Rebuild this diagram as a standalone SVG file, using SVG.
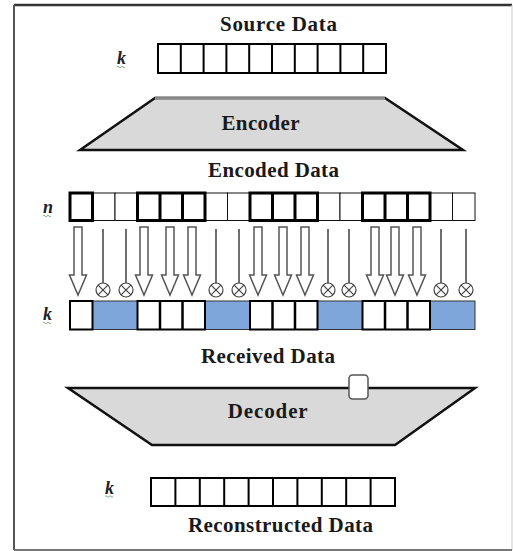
<svg xmlns="http://www.w3.org/2000/svg" width="513" height="551" viewBox="0 0 513 551">
<style>
.t{font-family:"Liberation Serif","Times New Roman",serif;font-weight:bold;font-size:21px;fill:#1a1a1a;text-anchor:middle}
.v{font-family:"Liberation Serif","Times New Roman",serif;font-weight:bold;font-style:italic;font-size:18px;fill:#222}
.sq{fill:none;stroke:#5a9a5a;stroke-width:0.8}
.cell{fill:#fff;stroke:#000;stroke-width:2}
.thin{fill:#fff;stroke:#111;stroke-width:1}
.bold{fill:none;stroke:#000;stroke-width:3}
.blue{fill:#7fa6da;stroke:#333;stroke-width:1}
.trap{fill:#d9d9d9;stroke:#111;stroke-width:2.5;stroke-linejoin:miter}
.arr{fill:#fff;stroke:#555;stroke-width:1.5;stroke-linejoin:miter}
</style>
<defs>
<path id="arrow" class="arr" d="M-4,227 h8 v48 h4.5 l-8.5,20 l-8.5,-20 h4.5 z"/>
<g id="lost">
<line x1="0" y1="229" x2="0" y2="283" stroke="#222" stroke-width="1.3"/>
<circle cx="0" cy="290" r="7" fill="#fff" stroke="#444" stroke-width="1.2"/>
<path d="M-4.9,285.1 L4.9,294.9 M4.9,285.1 L-4.9,294.9" stroke="#444" stroke-width="1.2"/>
</g>
</defs>
<rect width="513" height="551" fill="#fff"/>
<g id="frame">
<line x1="14" y1="5" x2="512" y2="5" stroke="#333" stroke-width="2.5"/>
<line x1="14" y1="5" x2="14" y2="550" stroke="#555" stroke-width="2"/>
<line x1="512" y1="5" x2="512" y2="550" stroke="#ccc" stroke-width="1"/>
<line x1="14" y1="550" x2="512" y2="550" stroke="#777" stroke-width="2"/>
</g>
<g id="source">
<text class="t" x="278.5" y="31" textLength="117" lengthAdjust="spacing">Source Data</text>
<text class="v" x="117" y="64">k</text>
<path class="sq" d="M117,67 q1,-1.5 2,0 t2,0 t2,0 t2,0"/>
<rect class="cell" x="158" y="44" width="228" height="29"/>
<path d="M180.8,44v29M203.6,44v29M226.4,44v29M249.2,44v29M272,44v29M294.8,44v29M317.6,44v29M340.4,44v29M363.2,44v29" stroke="#000" stroke-width="2"/>
</g>
<g id="encoder">
<polygon class="trap" points="155,98 385,98 463,150 80,150"/>
<line x1="155" y1="98" x2="385" y2="98" stroke="#888" stroke-width="3"/>
<text class="t" x="260.5" y="130" textLength="78" lengthAdjust="spacing">Encoder</text>
</g>
<g id="encoded">
<text class="t" x="273.5" y="176.7" textLength="131" lengthAdjust="spacing">Encoded Data</text>
<text class="v" x="43" y="213">n</text>
<path class="sq" d="M43,216 q1,-1.5 2,0 t2,0 t2,0 t2,0"/>
<rect class="thin" x="92.5" y="193" width="22.5" height="27.5"/>
<rect class="thin" x="115" y="193" width="22.5" height="27.5"/>
<rect class="thin" x="205" y="193" width="22.5" height="27.5"/>
<rect class="thin" x="227.5" y="193" width="22.5" height="27.5"/>
<rect class="thin" x="317.5" y="193" width="22.5" height="27.5"/>
<rect class="thin" x="340" y="193" width="22.5" height="27.5"/>
<rect class="thin" x="430" y="193" width="22.5" height="27.5"/>
<rect class="thin" x="452.5" y="193" width="22.5" height="27.5"/>
<rect class="bold" x="70" y="193" width="22.5" height="27.5"/>
<rect class="bold" x="137.5" y="193" width="67.5" height="27.5"/>
<rect class="bold" x="250" y="193" width="67.5" height="27.5"/>
<rect class="bold" x="362.5" y="193" width="67.5" height="27.5"/>
<path d="M160,193v27.5M182.5,193v27.5M272.5,193v27.5M295,193v27.5M385,193v27.5M407.5,193v27.5" stroke="#000" stroke-width="3"/>
</g>
<g id="connectors">
<use href="#arrow" x="78"/>
<use href="#lost" x="103"/>
<use href="#lost" x="126"/>
<use href="#arrow" x="144"/>
<use href="#arrow" x="170"/>
<use href="#arrow" x="192"/>
<use href="#lost" x="216"/>
<use href="#lost" x="239"/>
<use href="#arrow" x="258"/>
<use href="#arrow" x="283"/>
<use href="#arrow" x="305"/>
<use href="#lost" x="328"/>
<use href="#lost" x="349"/>
<use href="#arrow" x="375"/>
<use href="#arrow" x="395"/>
<use href="#arrow" x="417"/>
<use href="#lost" x="441"/>
<use href="#lost" x="466"/>
</g>
<g id="received">
<text class="v" x="43" y="320">k</text>
<path class="sq" d="M43,323 q1,-1.5 2,0 t2,0 t2,0 t2,0"/>
<rect class="blue" x="92.5" y="301" width="45" height="28.5"/>
<rect class="blue" x="205" y="301" width="45" height="28.5"/>
<rect class="blue" x="317.5" y="301" width="45" height="28.5"/>
<rect class="blue" x="430" y="301" width="45" height="28.5"/>
<rect class="cell" x="70" y="301" width="22.5" height="28.5" stroke-width="2.5"/>
<rect class="cell" x="137.5" y="301" width="67.5" height="28.5" stroke-width="2.5"/>
<rect class="cell" x="250" y="301" width="67.5" height="28.5" stroke-width="2.5"/>
<rect class="cell" x="362.5" y="301" width="67.5" height="28.5" stroke-width="2.5"/>
<path d="M160,301v28.5M182.5,301v28.5M272.5,301v28.5M295,301v28.5M385,301v28.5M407.5,301v28.5" stroke="#000" stroke-width="2.5"/>
<text class="t" x="268" y="363.3" textLength="134" lengthAdjust="spacing">Received Data</text>
</g>
<g id="decoder">
<polygon class="trap" points="68,388 475,388 395,445 152,445"/>
<rect x="349" y="375" width="19" height="24" rx="3.5" fill="#fff" stroke="#555" stroke-width="1.5"/>
<text class="t" x="267.7" y="418.3" textLength="80" lengthAdjust="spacing">Decoder</text>
</g>
<g id="reconstructed">
<text class="v" x="105" y="493.5">k</text>
<path class="sq" d="M105,496.5 q1,-1.5 2,0 t2,0 t2,0 t2,0"/>
<rect class="cell" x="151" y="478" width="244" height="28"/>
<path d="M175.4,478v28M199.8,478v28M224.2,478v28M248.6,478v28M273,478v28M297.4,478v28M321.8,478v28M346.2,478v28M370.6,478v28" stroke="#000" stroke-width="2"/>
<text class="t" x="280.5" y="531.7" textLength="185" lengthAdjust="spacing">Reconstructed Data</text>
</g>
</svg>
